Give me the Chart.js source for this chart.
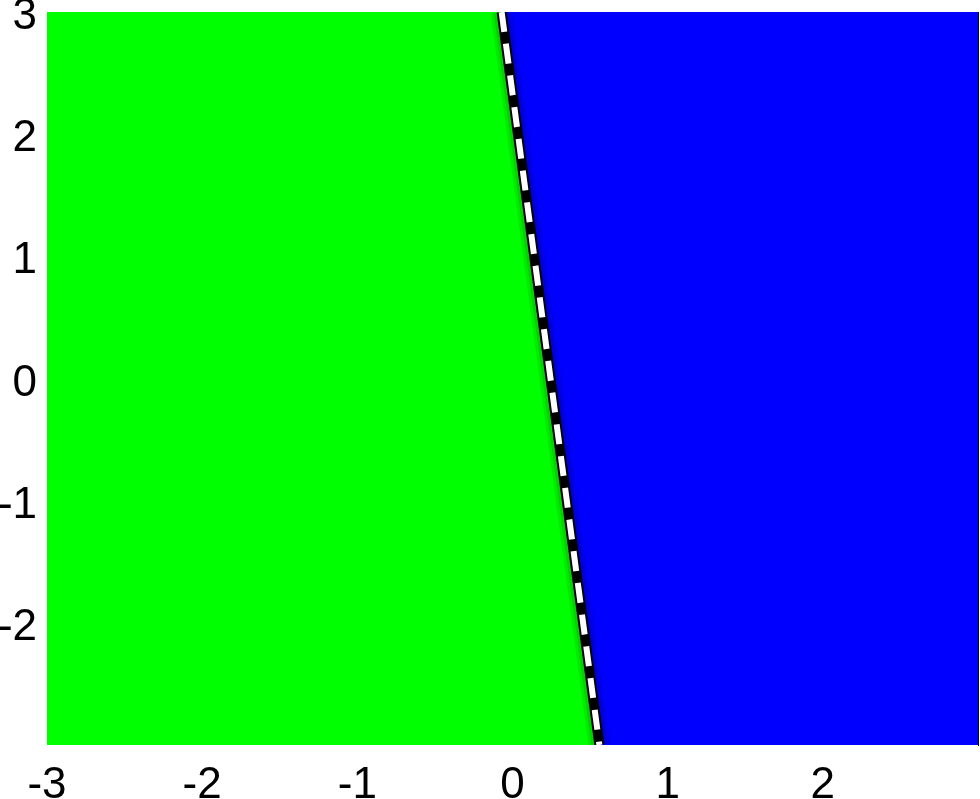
<!DOCTYPE html>
<html>
<head>
<meta charset="utf-8">
<script src="https://cdn.jsdelivr.net/npm/chart.js@4.4.1/dist/chart.umd.min.js"></script>
<style>
  html, body { margin: 0; padding: 0; background: #fff; }
  canvas { display: block; }
</style>
</head>
<body>
<canvas id="boundaryChart" width="980" height="799"></canvas>
<script>
// axis ticks
const xTicks = [-3, -2, -1, 0, 1, 2];
const yTicks = [-2, -1, 0, 1, 2, 3];

// decision boundary (top point, bottom point)
const boundaryX = [-0.07, 0.56];
const boundaryY = [3, -3];

// class regions (polygon corners)
const greenX = [-3, -0.07, 0.56, -3];
const greenY = [3, 3, -3, -3];
const blueX = [-0.07, 3, 3, 0.56];
const blueY = [3, 3, -3, -3];

function toPoints(xs, ys) {
    return xs.map((x, i) => ({ x: x, y: ys[i] }));
}

// boundary line layer
function boundaryLine(color, width, order, dash) {
    return {
        data: toPoints(boundaryX, boundaryY),
        showLine: true,
        borderColor: color,
        borderWidth: width,
        borderDash: dash || [],
        pointRadius: 0,
        order: order
    };
}

const tickFont = { family: 'Liberation Sans, Arial, sans-serif', size: 44 };

const ctx = document.getElementById('boundaryChart').getContext('2d');
new Chart(ctx, {
    type: 'scatter',
    data: {
        datasets: [
            boundaryLine('#ffffff', 6, 0, [20, 12]),
            boundaryLine('#000000', 10, 1),
            boundaryLine('rgba(0,0,0,0.10)', 16, 2),
            boundaryLine('rgba(0,0,0,0.08)', 22, 3),
            {
                data: toPoints(blueX, blueY),
                showLine: true,
                borderWidth: 0,
                borderColor: 'rgba(0,0,0,0)',
                backgroundColor: '#0000ff',
                fill: 'shape',
                pointRadius: 0,
                order: 4
            },
            {
                data: toPoints(greenX, greenY),
                showLine: true,
                borderWidth: 0,
                borderColor: 'rgba(0,0,0,0)',
                backgroundColor: '#00ff00',
                fill: 'shape',
                pointRadius: 0,
                order: 5
            }
        ]
    },
    options: {
        responsive: false,
        animation: false,
        devicePixelRatio: 1,
        layout: { padding: 0 },
        plugins: {
            legend: { display: false },
            tooltip: { enabled: false }
        },
        scales: {
            x: {
                type: 'linear',
                position: 'bottom',
                min: -3,
                max: 3,
                afterBuildTicks: s => { s.ticks = xTicks.map(v => ({ value: v })); },
                afterFit: s => { s.height = 54; s.paddingLeft = 0; s.paddingRight = 0; },
                grid: { display: false, drawTicks: false },
                border: { display: false },
                ticks: { color: '#000', font: tickFont, padding: 14, maxRotation: 0, autoSkip: false }
            },
            y: {
                type: 'linear',
                position: 'left',
                min: -3,
                max: 3,
                afterBuildTicks: s => { s.ticks = yTicks.map(v => ({ value: v })); },
                afterFit: s => { s.width = 47; s.paddingTop = 0; s.paddingBottom = 0; },
                grid: { display: false, drawTicks: false },
                border: { display: false },
                ticks: { color: '#000', font: tickFont, padding: 10, labelOffset: 5, autoSkip: false }
            },
            x2: {
                type: 'linear',
                position: 'top',
                min: -3,
                max: 3,
                z: 1,
                afterFit: s => { s.height = 12; },
                grid: { display: false, drawTicks: false },
                border: { display: true, color: '#000', width: 1 },
                ticks: { display: false }
            },
            y2: {
                type: 'linear',
                position: 'right',
                min: -3,
                max: 3,
                z: 1,
                afterFit: s => { s.width = 2; },
                grid: { display: false, drawTicks: false },
                border: { display: true, color: '#000', width: 1 },
                ticks: { display: false }
            }
        }
    }
});
</script>
</body>
</html>
